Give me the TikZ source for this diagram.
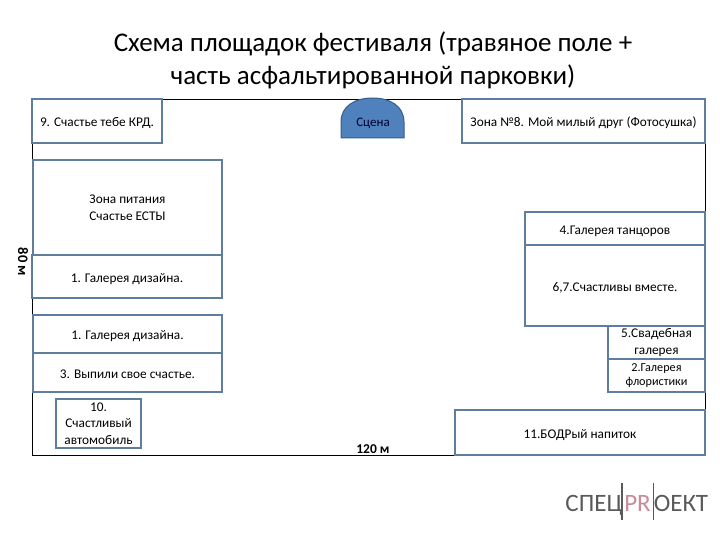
\documentclass[tikz,border=0pt]{standalone}
\usepackage{fontspec}
\setmainfont{Carlito}
\definecolor{zoneline}{HTML}{5F7E9E}
\definecolor{stagefill}{HTML}{4F81BD}
\definecolor{stageline}{HTML}{385D8A}
\definecolor{logopink}{HTML}{C98A9C}
\definecolor{logogray}{HTML}{5A5A5A}
\tikzset{
  zone/.style={draw=zoneline, line width=1.6pt, fill=white, align=center, inner sep=1pt,
    font=\fontsize{13.3}{16.5}\selectfont},
  zoneline/.style={zone, text height=14pt, text depth=3pt},
  logotext/.style={inner sep=0pt, anchor=base, font=\fontsize{25}{25}\selectfont}
}

\begin{document}
\begin{tikzpicture}[x=1pt, y=-1pt]
  \useasboundingbox (0, 0) rectangle (720, 540);
  \node[align=center, font=\fontsize{27}{33.5}\selectfont] (title) at (373, 60.5) {Схема площадок фестиваля (травяное поле +\\часть асфальтированной парковки)};
  \coordinate (fieldnw) at (32, 99);
  \coordinate (fieldse) at (705, 455);
  \draw[line width=0.9pt] (fieldnw) rectangle (fieldse);
  \filldraw[fill=stagefill, draw=stageline, line width=1pt] (341, 138) -- (341, 122) .. controls (341, 106) and (355, 98) .. (372.5, 98) .. controls (390, 98) and (404, 106) .. (404, 122) -- (404, 138) -- cycle;
  \node[font=\fontsize{13}{15}\selectfont, text=black!80!blue] (stage) at (373, 123) {Сцена};
  \node[zoneline, minimum width=130pt, minimum height=44pt] (krd) at (97, 121) {9. Счастье тебе КРД.};
  \node[zoneline, minimum width=243pt, minimum height=44pt] (photo) at (583.5, 121) {Зона №8. Мой милый друг (Фотосушка)};
  \node[zone, minimum width=189pt, minimum height=95pt] (food) at (127.5, 207.5) {Зона питания\\Счастье ЕСТЫ};
  \node[zoneline, minimum width=190pt, minimum height=43pt] (designa) at (127, 276.5) {1. Галерея дизайна.};
  \node[zoneline, minimum width=189pt, minimum height=38pt] (designb) at (127.5, 334) {1. Галерея дизайна.};
  \node[zoneline, minimum width=189pt, minimum height=39pt] (drink) at (127.5, 372.5) {3. Выпили свое счастье.};
  \node[zone, minimum width=85pt, minimum height=49pt] (car) at (98.5, 423.5) {10.\\Счастливый\\автомобиль};
  \node[zoneline, minimum width=180pt, minimum height=33pt] (dancers) at (615, 228.5) {4.Галерея танцоров};
  \node[zoneline, minimum width=180pt, minimum height=81pt] (together) at (615, 285.5) {6,7.Счастливы вместе.};
  \node[zone, minimum width=97pt, minimum height=33pt] (wedding) at (656.5, 342.5) {5.Свадебная\\галерея};
  \node[zone, minimum width=97pt, minimum height=33pt, font=\fontsize{12.2}{14}\selectfont] (flowers) at (656.5, 375.5) {2.Галерея\\флористики};
  \node[zoneline, minimum width=250pt, minimum height=45pt] (bodr) at (580, 432.5) {11.БОДРый напиток};
  \node[font=\fontsize{13.5}{15}\bfseries\selectfont, inner sep=0pt] (width) at (373, 449) {120 м};
  \node[font=\fontsize{14.5}{15}\bfseries\selectfont, inner sep=0pt, rotate=-90] (height) at (23, 262) {80 м};
  % logo
  \node[logotext, text=logogray] (logoa) at (594, 511) {СПЕЦ};
  \node[logotext, text=logopink] (logob) at (637.5, 511) {PR};
  \node[logotext, text=logogray] (logoc) at (681, 511) {ОЕКТ};
  \draw[logogray, line width=1.3pt] (622, 483) -- (622, 520);
  \draw[logogray, line width=0.8pt] (653, 483) -- (653, 520);
\end{tikzpicture}
\end{document}
